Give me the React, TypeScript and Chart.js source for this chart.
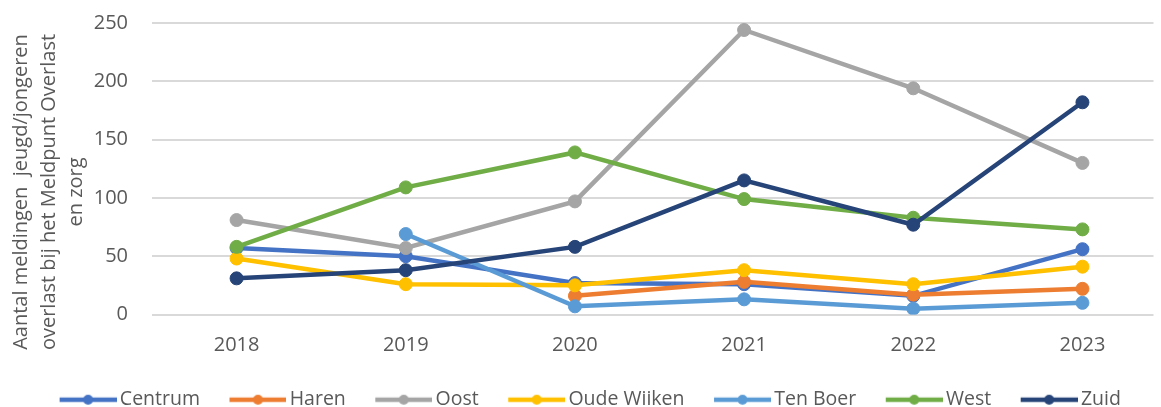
import React, { useEffect, useRef } from 'react';
import { Chart, registerables } from 'chart.js';

Chart.register(...registerables);

const YEARS = [2018, 2019, 2020, 2021, 2022, 2023];
const SERIES_NAMES = ['Centrum', 'Haren', 'Oost', 'Oude Wiiken', 'Ten Boer', 'West', 'Zuid'];
const CENTRUM = [57, 50, 27, 26, 16, 56];
const HAREN = [null, null, 16, 28, 17, 22];
const OOST = [81, 57, 97, 244, 194, 130];
const OUDE_WIIKEN = [48, 26, 25, 38, 26, 41];
const TEN_BOER = [null, 69, 7, 13, 5, 10];
const WEST = [58, 109, 139, 99, 83, 73];
const ZUID = [31, 38, 58, 115, 77, 182];
const SERIES_VALUES = [CENTRUM, HAREN, OOST, OUDE_WIIKEN, TEN_BOER, WEST, ZUID];
const COLORS = ['#4472C4', '#ED7D31', '#A5A5A5', '#FFC000', '#5B9BD5', '#70AD47', '#264478'];
const Y_TICKS = [0, 50, 100, 150, 200, 250];
const Y_TITLE = ['Aantal meldingen  jeugd/jongeren', 'overlast bij het Meldpunt Overlast', 'en zorg'];

const FONT = "'Open Sans', 'Noto Sans', sans-serif";
const TEXT_COLOR = '#595959';

function makeMarker(color: string): HTMLCanvasElement {
  const c = document.createElement('canvas');
  c.width = 83;
  c.height = 14;
  const g = c.getContext('2d')!;
  g.strokeStyle = color;
  g.lineWidth = 4.5;
  g.beginPath();
  g.moveTo(26, 7);
  g.lineTo(83, 7);
  g.stroke();
  g.fillStyle = color;
  g.beginPath();
  g.arc(54.5, 7, 5, 0, Math.PI * 2);
  g.fill();
  return c;
}

const yTitlePlugin = {
  id: 'yTitle',
  afterDraw(chart: any) {
    const ctx = chart.ctx;
    ctx.save();
    ctx.fillStyle = TEXT_COLOR;
    ctx.font = `20px ${FONT}`;
    ctx.textAlign = 'center';
    ctx.textBaseline = 'alphabetic';
    const baselines = [27, 55, 82];
    Y_TITLE.forEach((t, i) => {
      ctx.save();
      ctx.translate(baselines[i], 192);
      ctx.rotate(-Math.PI / 2);
      ctx.fillText(t, 0, 0);
      ctx.restore();
    });
    ctx.restore();
  },
};

export default function App() {
  const ref = useRef<HTMLCanvasElement | null>(null);

  useEffect(() => {
    if (!ref.current) return;
    const markers = COLORS.map((c) => makeMarker(c));
    const datasets = SERIES_NAMES.map((name, i) => ({
      label: name,
      data: YEARS.map((yr, j) => ({ x: yr, y: SERIES_VALUES[i][j] })),
      borderColor: COLORS[i],
      backgroundColor: COLORS[i],
      pointBackgroundColor: COLORS[i],
      pointBorderColor: COLORS[i],
      borderWidth: 4.5,
      pointRadius: 6.5,
      pointBorderWidth: 1,
      tension: 0,
      order: SERIES_NAMES.length - 1 - i,
      spanGaps: false,
    }));

    const chart = new Chart(ref.current, {
      type: 'line',
      data: { datasets },
      plugins: [yTitlePlugin],
      options: {
        animation: false,
        responsive: true,
        maintainAspectRatio: false,
        layout: { padding: { top: 23, left: 0, right: 0, bottom: -12.5 } },
        plugins: {
          tooltip: { enabled: false },
          legend: {
            position: 'bottom',
            align: 'center',
            labels: {
              usePointStyle: true,
              pointStyleWidth: 70,
              padding: 10,
              color: TEXT_COLOR,
              font: { family: FONT, size: 19.5 },
              generateLabels: (ch: any) =>
                ch.data.datasets.map((ds: any, i: number) => ({
                  text: ds.label,
                  fillStyle: COLORS[i],
                  strokeStyle: COLORS[i],
                  lineWidth: 0,
                  pointStyle: markers[i],
                  hidden: false,
                  datasetIndex: i,
                  fontColor: TEXT_COLOR,
                })),
            },
          },
        },
        scales: {
          x: {
            type: 'linear',
            min: 2017.5,
            max: 2023.42,
            grid: { display: false, drawTicks: false },
            border: { display: false },
            afterBuildTicks: (s: any) => {
              s.ticks = YEARS.map((v) => ({ value: v }));
            },
            afterFit: (s: any) => {
              s.height = 65.5;
            },
            ticks: {
              autoSkip: false,
              maxRotation: 0,
              padding: 19,
              color: TEXT_COLOR,
              font: { family: FONT, size: 20 },
              callback: (v: any) => String(v),
            },
          },
          y: {
            type: 'linear',
            min: 0,
            max: 250,
            grid: { color: '#d9d9d9', lineWidth: 2, drawTicks: false },
            border: { display: false },
            afterBuildTicks: (s: any) => {
              s.ticks = Y_TICKS.map((v) => ({ value: v }));
            },
            afterFit: (s: any) => {
              s.width = 152;
              s.paddingTop = 0;
              s.paddingBottom = 0;
            },
            ticks: {
              padding: 24,
              color: TEXT_COLOR,
              font: { family: FONT, size: 20 },
              callback: (v: any) => String(v),
            },
          },
        },
      },
    } as any);
    return () => chart.destroy();
  }, []);

  return (
    <div style={{ position: 'absolute', left: 0, top: 0, width: 1161, height: 407 }}>
      <canvas ref={ref} />
    </div>
  );
}
